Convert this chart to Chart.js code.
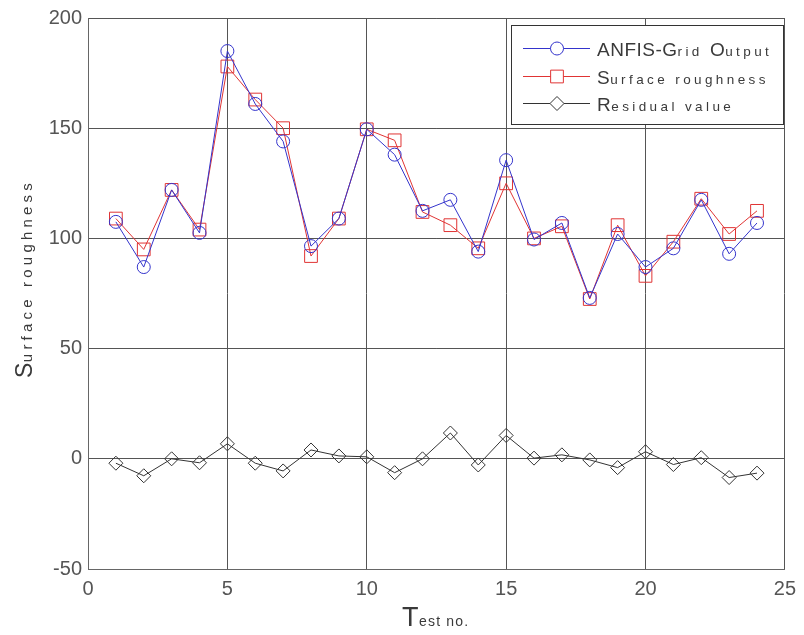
<!DOCTYPE html>
<html>
<head>
<meta charset="utf-8">
<script src="https://cdn.jsdelivr.net/npm/chart.js@4.4.1/dist/chart.umd.min.js"></script>
<style>
    html, body { margin: 0; padding: 0; background: #fff; }
    #chart_wrap { width: 804px; height: 635px; }
</style>
</head>
<body>
<div id="chart_wrap"><canvas id="chart_main" width="804" height="635"></canvas></div>
<script>
const test_no = [1, 2, 3, 4, 5, 6, 7, 8, 9, 10, 11, 12, 13, 14, 15, 16, 17, 18, 19, 20, 21, 22, 23, 24];
const anfis_output = [107.5, 87, 122, 102.5, 185, 161, 144, 96.5, 109, 149.5, 138, 112.5, 117.5, 94, 135.5, 99.5, 107, 73, 102, 87, 95.5, 117.5, 93, 107];
const surface_roughness = [109, 95, 122, 104, 178, 163, 150, 92, 109, 149.5, 144.5, 112, 106, 95.5, 125, 100, 105.5, 72.5, 106, 83, 98.5, 118, 102, 112.5];
const residual_value = [-2, -7.7, 0, -1.8, 6.8, -2, -5.5, 4, 1.3, 0.9, -6.3, 0, 11.7, -2.8, 10.6, 0.3, 1.8, -0.5, -4, 3.2, -2.6, 0.5, -8.5, -6.5];
const x_ticks = [0, 5, 10, 15, 20, 25];
const y_ticks = [-50, 0, 50, 100, 150, 200];

const font_family = '"Liberation Sans", "DejaVu Sans", sans-serif';

function to_points(values) {
    return values.map((v, i) => ({ x: test_no[i], y: v }));
}

// draws text with big capitals and small spaced lower case letters
function draw_mixed_text(ctx, text, x, y, big_px, small_px, spacing) {
    let cx = x;
    for (const ch of text) {
        const big = /[A-Z\-]/.test(ch);
        ctx.font = (big ? big_px : small_px) + 'px ' + font_family;
        ctx.fillText(ch, cx, y);
        cx += ctx.measureText(ch).width + (big ? 0.5 : spacing);
    }
    return cx - x;
}

const titles_plugin = {
    id: 'titles_plugin',
    afterDraw(chart) {
        const ctx = chart.ctx;
        ctx.save();
        ctx.fillStyle = '#3a3a3a';
        ctx.textBaseline = 'alphabetic';
        ctx.textAlign = 'left';

        // x title
        draw_mixed_text(ctx, 'Test no.', 402, 626, 27, 14, 1.2);

        // y title
        ctx.save();
        ctx.translate(32, 378);
        ctx.rotate(-Math.PI / 2);
        draw_mixed_text(ctx, 'Surface roughness', 0, 0, 23, 15, 4.2);
        ctx.restore();

        // legend box
        const box = { x: 511.5, y: 25.5, w: 272, h: 99 };
        ctx.fillStyle = '#fff';
        ctx.fillRect(box.x, box.y, box.w, box.h);
        ctx.strokeStyle = '#333';
        ctx.lineWidth = 1;
        ctx.strokeRect(box.x, box.y, box.w, box.h);

        const rows = [48, 76, 103];
        chart.data.datasets.forEach((ds, i) => {
            const ly = rows[i] + 0.5;
            ctx.strokeStyle = ds.borderColor;
            ctx.lineWidth = 1;
            ctx.beginPath();
            ctx.moveTo(523, ly);
            ctx.lineTo(590, ly);
            ctx.stroke();
            ctx.fillStyle = '#fff';
            Chart.helpers.drawPoint(ctx, {
                pointStyle: ds.pointStyle,
                radius: ds.pointRadius,
                borderWidth: 1,
                rotation: 0,
            }, 557, ly);
            ctx.fillStyle = '#3a3a3a';
            draw_mixed_text(ctx, ds.label, 597, ly + 7, 19, 13.5, 3.4);
        });
        ctx.restore();
    },
};

const ctx = document.getElementById('chart_main').getContext('2d');
new Chart(ctx, {
    type: 'line',
    data: {
        datasets: [
            {
                label: 'ANFIS-Grid Output',
                data: to_points(anfis_output),
                borderColor: '#3434cc',
                backgroundColor: 'rgba(0,0,0,0)',
                pointStyle: 'circle',
                pointRadius: 6.5,
                pointBorderWidth: 1,
                borderWidth: 1,
                tension: 0,
            },
            {
                label: 'Surface roughness',
                data: to_points(surface_roughness),
                borderColor: '#e03434',
                backgroundColor: 'rgba(0,0,0,0)',
                pointStyle: 'rect',
                pointRadius: 9,
                pointBorderWidth: 1,
                borderWidth: 1,
                tension: 0,
            },
            {
                label: 'Residual value',
                data: to_points(residual_value),
                borderColor: '#333333',
                backgroundColor: 'rgba(0,0,0,0)',
                pointStyle: 'rectRot',
                pointRadius: 7,
                pointBorderWidth: 1,
                borderWidth: 1,
                tension: 0,
            },
        ],
    },
    options: {
        responsive: false,
        animation: false,
        layout: { padding: { top: 13, right: 13, left: 0, bottom: 0 } },
        plugins: {
            legend: { display: false },
            tooltip: { enabled: false },
        },
        scales: {
            x: {
                type: 'linear',
                min: 0,
                max: 25,
                afterBuildTicks: (scale) => { scale.ticks = x_ticks.map((v) => ({ value: v })); },
                afterFit: (scale) => { scale.height = 66; },
                ticks: {
                    color: '#555',
                    padding: 8,
                    font: { family: font_family, size: 20 },
                },
                grid: { color: '#555', drawTicks: false, lineWidth: 1 },
                border: { color: '#666' },
            },
            y: {
                min: -50,
                max: 200,
                afterBuildTicks: (scale) => { scale.ticks = y_ticks.map((v) => ({ value: v })); },
                afterFit: (scale) => { scale.width = 88; },
                ticks: {
                    color: '#555',
                    padding: 6,
                    font: { family: font_family, size: 20 },
                },
                grid: { color: '#555', drawTicks: false, lineWidth: 1 },
                border: { color: '#666' },
            },
        },
    },
    plugins: [titles_plugin],
});
</script>
</body>
</html>
